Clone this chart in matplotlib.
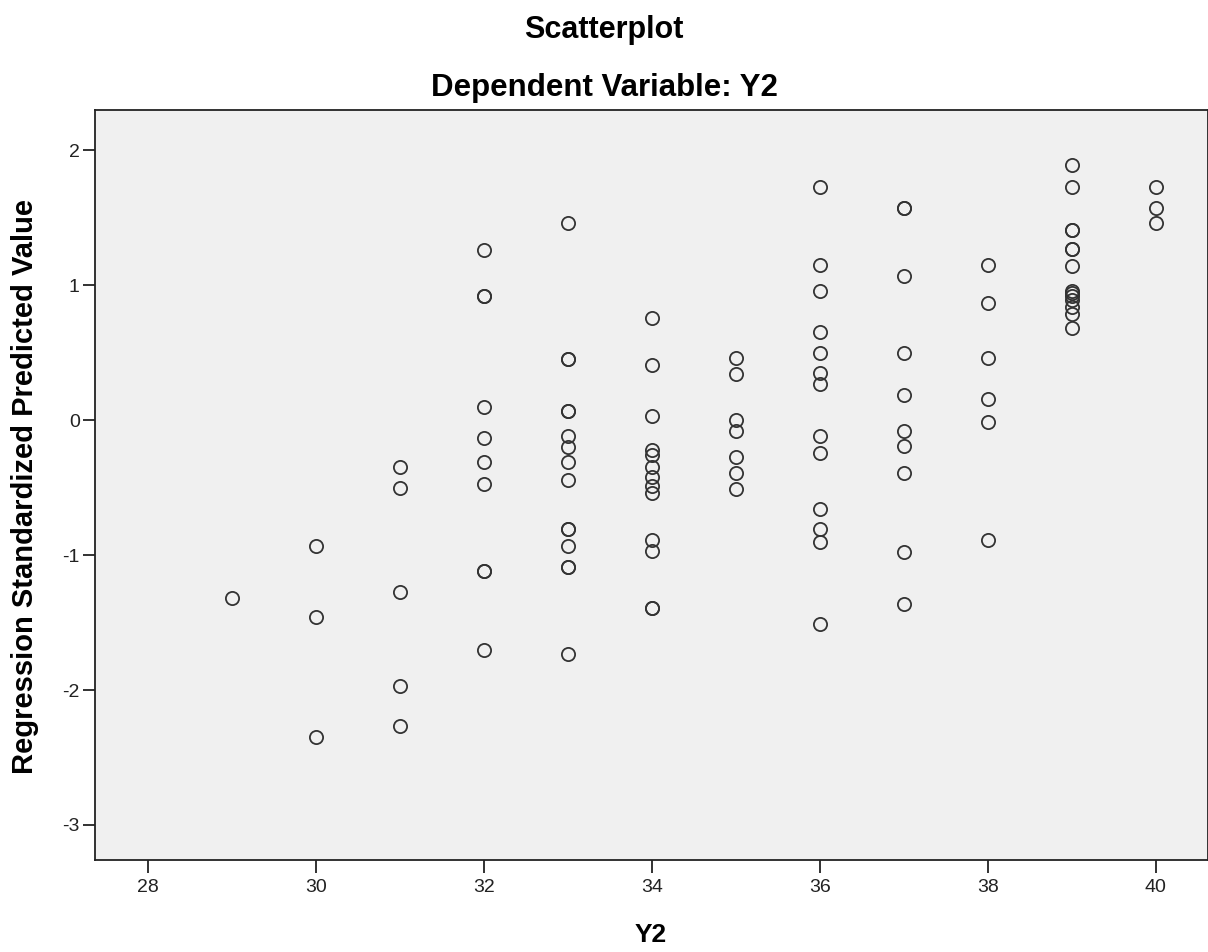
import numpy as np
import matplotlib
matplotlib.use("Agg")
import matplotlib.pyplot as plt

plt.rcParams['font.family'] = ['Liberation Sans', 'DejaVu Sans']
plt.rcParams['axes.unicode_minus'] = False

# observed Y2 (x) and regression standardized predicted value (y), per column
Y2_29 = [-1.32]
Y2_30 = [-0.93, -1.46, -2.35]
Y2_31 = [-0.35, -0.50, -1.27, -1.97, -2.27]
Y2_32 = [1.26, 0.92, 0.92, 0.10, -0.13, -0.31, -0.47, -1.12, -1.12, -1.70]
Y2_33 = [1.46, 0.45, 0.45, 0.07, 0.07, -0.12, -0.20, -0.31, -0.44,
         -0.81, -0.81, -0.93, -1.09, -1.09, -1.73]
Y2_34 = [0.76, 0.41, 0.03, -0.22, -0.26, -0.35, -0.42, -0.49, -0.54,
         -0.89, -0.97, -1.39, -1.39]
Y2_35 = [0.46, 0.34, 0.00, -0.08, -0.27, -0.39, -0.51]
Y2_36 = [1.73, 1.15, 0.96, 0.65, 0.50, 0.35, 0.27, -0.12, -0.24,
         -0.66, -0.81, -0.90, -1.51]
Y2_37 = [1.57, 1.57, 1.07, 0.50, 0.19, -0.08, -0.19, -0.39, -0.98, -1.36]
Y2_38 = [1.15, 0.87, 0.46, 0.16, -0.01, -0.89]
Y2_39 = [1.89, 1.73, 1.41, 1.41, 1.27, 1.27, 1.14, 0.96, 0.94, 0.92,
         0.89, 0.84, 0.79, 0.68]
Y2_40 = [1.73, 1.57, 1.46]

COLUMNS = {29: Y2_29, 30: Y2_30, 31: Y2_31, 32: Y2_32, 33: Y2_33, 34: Y2_34,
           35: Y2_35, 36: Y2_36, 37: Y2_37, 38: Y2_38, 39: Y2_39, 40: Y2_40}

X_TICKS = [28, 30, 32, 34, 36, 38, 40]
Y_TICKS = [2, 1, 0, -1, -2, -3]


def main():
    xs = np.concatenate([[k] * len(v) for k, v in COLUMNS.items()])
    ys = np.concatenate([v for v in COLUMNS.values()])

    fig = plt.figure(figsize=(12.08, 9.52), dpi=100)
    ax = fig.add_axes([0.0786, 0.0966, 0.9214, 0.788])
    ax.set_facecolor("#f0f0f0")

    ax.plot(xs, ys, ls="none", marker="o", markersize=9.5,
            markerfacecolor="none", markeredgecolor="#333333",
            markeredgewidth=1.3)

    ax.set_xlim(27.37, 40.62)
    ax.set_ylim(-3.26, 2.30)
    ax.set_xticks(X_TICKS)
    ax.set_yticks(Y_TICKS)
    ax.tick_params(direction="out", length=9, width=1.3, labelsize=14,
                   color="#222222", labelcolor="#222222")
    ax.tick_params(axis="x", pad=5)
    ax.tick_params(axis="y", pad=2)
    for sp in ax.spines.values():
        sp.set_linewidth(1.3)
        sp.set_color("#222222")

    fig.text(651 / 1208, 1 - 935 / 952, "Y2", ha="center", va="center",
             fontsize=19, fontweight="bold")
    fig.text(25 / 1208, 1 - 487 / 952, "Regression Standardized Predicted Value",
             ha="center", va="center", rotation=90, fontsize=21,
             fontweight="bold")

    fig.text(0.5, 1 - 30 / 952, "Scatterplot", ha="center", va="center",
             fontsize=22, fontweight="bold")
    fig.text(0.5, 1 - 88 / 952, "Dependent Variable: Y2", ha="center",
             va="center", fontsize=22.5, fontweight="bold")

    fig.savefig("out.png", dpi=100)
    plt.close(fig)


if __name__ == "__main__":
    main()
